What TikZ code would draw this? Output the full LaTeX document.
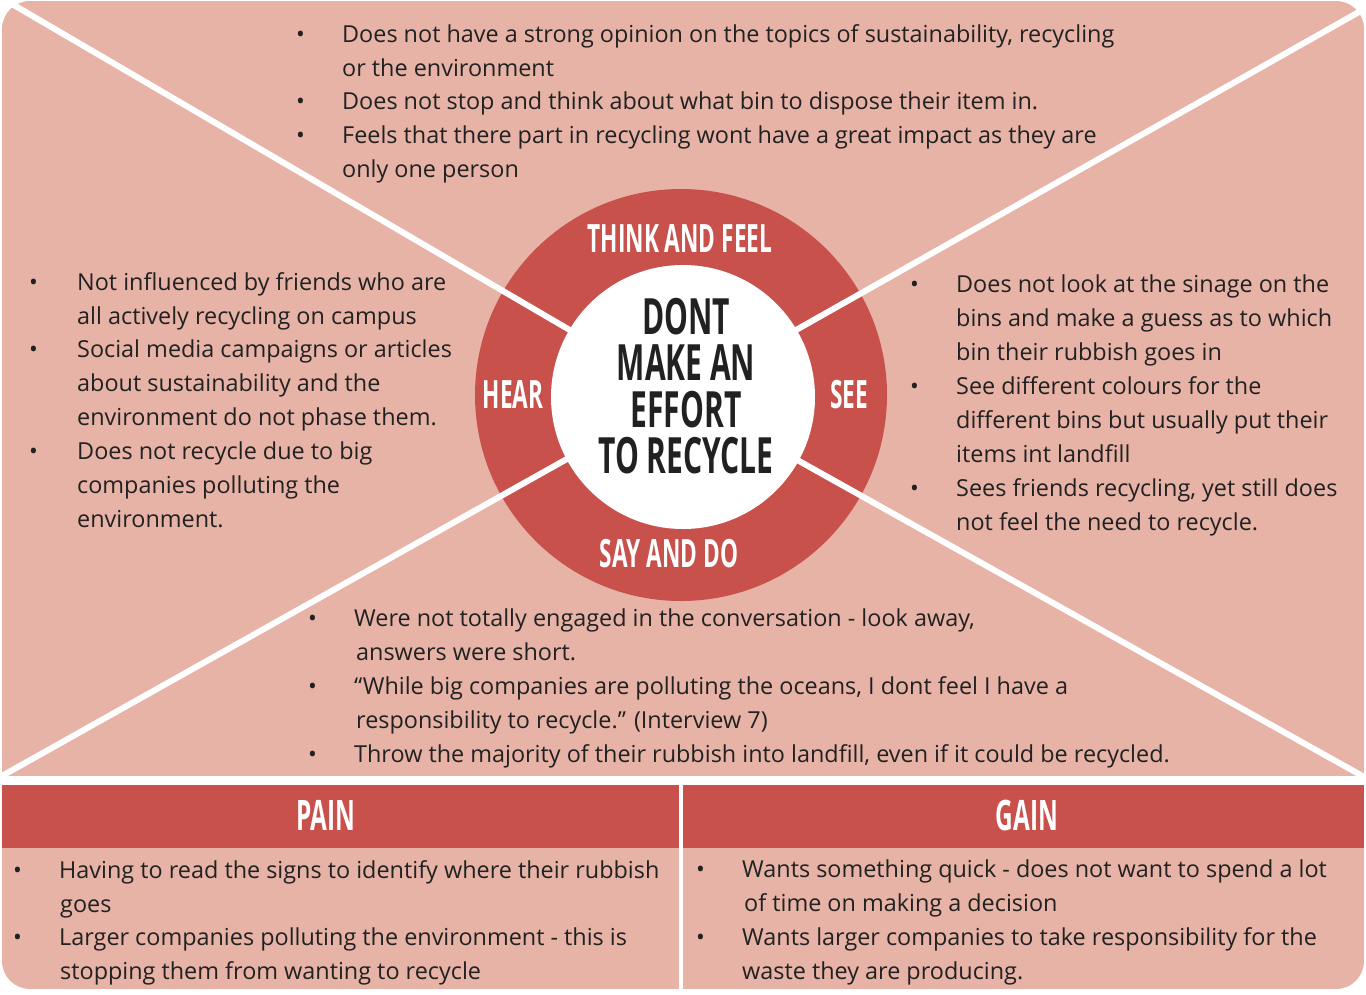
\documentclass[tikz,border=0pt]{standalone}
\usepackage{fontspec}
\setmainfont{Open Sans}
\newfontfamily\headfont[FakeStretch=0.58]{Open Sans}
\newfontfamily\goalfont[FakeStretch=0.6]{Open Sans}
\definecolor{panelpink}{RGB}{230,179,166}
\definecolor{panelred}{RGB}{200,81,76}
\definecolor{inktext}{RGB}{33,33,33}
\tikzset{every node/.style={font=\fontsize{23.4}{33.9}\selectfont,text=inktext,inner sep=0pt},
  bodytext/.style={anchor=north west,align=left},
  ringlabel/.style={font=\headfont\bfseries\fontsize{39}{40}\selectfont,text=white},
  headlabel/.style={font=\headfont\bfseries\fontsize{42}{44}\selectfont,text=white},
  xline/.style={white,line width=6pt}}
\newcommand\bl[1][46pt]{\makebox[#1][l]{\textbullet}\ignorespaces}
\newcommand\ct[1][46pt]{\hspace*{#1}\ignorespaces}

\begin{document}
\begin{tikzpicture}[x=1pt,y=-1pt]
  \path[use as bounding box] (0,0) rectangle (1366,994);
  % panels
  \begin{scope}
    \clip[rounded corners=28pt] (2,1) rectangle (1364,989);
    \fill[panelpink] (2,1) rectangle (1364,776);
    \fill[panelpink] (2,785) rectangle (679,989);
    \fill[panelpink] (683,785) rectangle (1364,989);
    \fill[panelred] (2,785) rectangle (679,848);
    \fill[panelred] (683,785) rectangle (1364,848);
  \end{scope}
  % the cross
  \coordinate (hub) at (681,395);
  \coordinate (tl) at (0,-3);
  \coordinate (tr) at (1366,8);
  \coordinate (bl) at (0,777);
  \coordinate (br) at (1366,778);
  \node[circle,fill=panelred,minimum size=412pt] (ring) at (hub) {};
  \draw[xline] (tl) -- (hub) -- (br);
  \draw[xline] (bl) -- (hub) -- (tr);
  \node[circle,fill=white,minimum size=264pt] (core) at (683,397) {};
  \node[font=\goalfont\bfseries\fontsize{50}{46.5}\selectfont,align=center] (goal) at (686,386)
    {DONT\\MAKE AN\\EFFORT\\TO RECYCLE};
  \node[ringlabel] (think) at (680,239) {THINK AND FEEL};
  \node[ringlabel] (hear) at (513,395) {HEAR};
  \node[ringlabel] (see) at (849,395) {SEE};
  \node[ringlabel] (say) at (669,554) {SAY AND DO};
  % quadrant texts
  \node[bodytext] (thinktxt) at (296,24) {\bl Does not have a strong opinion on the topics of sustainability, recycling\\
    \ct or the environment\\
    \bl Does not stop and think about what bin to dispose their item in.\\
    \bl Feels that there part in recycling wont have a great impact as they are\\
    \ct only one person};
  \node[bodytext] (heartxt) at (29,272) {\bl[48pt] Not influenced by friends who are\\
    \ct[48pt] all actively recycling on campus\\
    \bl[48pt] Social media campaigns or articles\\
    \ct[48pt] about sustainability and the\\
    \ct[48pt] environment do not phase them.\\
    \bl[48pt] Does not recycle due to big\\
    \ct[48pt] companies polluting the\\
    \ct[48pt] environment.};
  \node[bodytext] (seetxt) at (910,275) {\bl Does not look at the sinage on the\\
    \ct bins and make a guess as to which\\
    \ct bin their rubbish goes in\\
    \bl See different colours for the\\
    \ct different bins but usually put their\\
    \ct items int landfill\\
    \bl Sees friends recycling, yet still does\\
    \ct not feel the need to recycle.};
  \node[bodytext] (saytxt) at (308,609) {\bl Were not totally engaged in the conversation - look away,\\
    \ct[48pt] answers were short.\\
    \bl “While big companies are polluting the oceans, I dont feel I have a\\
    \ct[48pt] responsibility to recycle.” (Interview 7)\\
    \bl Throw the majority of their rubbish into landfill, even if it could be recycled.};
  % pain and gain
  \node[headlabel] (pain) at (326,815) {PAIN};
  \node[headlabel] (gain) at (1027,815) {GAIN};
  \node[bodytext] (paintxt) at (13,860) {\bl Having to read the signs to identify where their rubbish\\
    \ct[47pt] goes\\
    \bl Larger companies polluting the environment - this is\\
    \ct[47pt] stopping them from wanting to recycle};
  \node[bodytext] (gaintxt) at (696,860) {\bl Wants something quick - does not want to spend a lot\\
    \ct[48pt] of time on making a decision\\
    \bl Wants larger companies to take responsibility for the\\
    \ct waste they are producing.};
\end{tikzpicture}
\end{document}
